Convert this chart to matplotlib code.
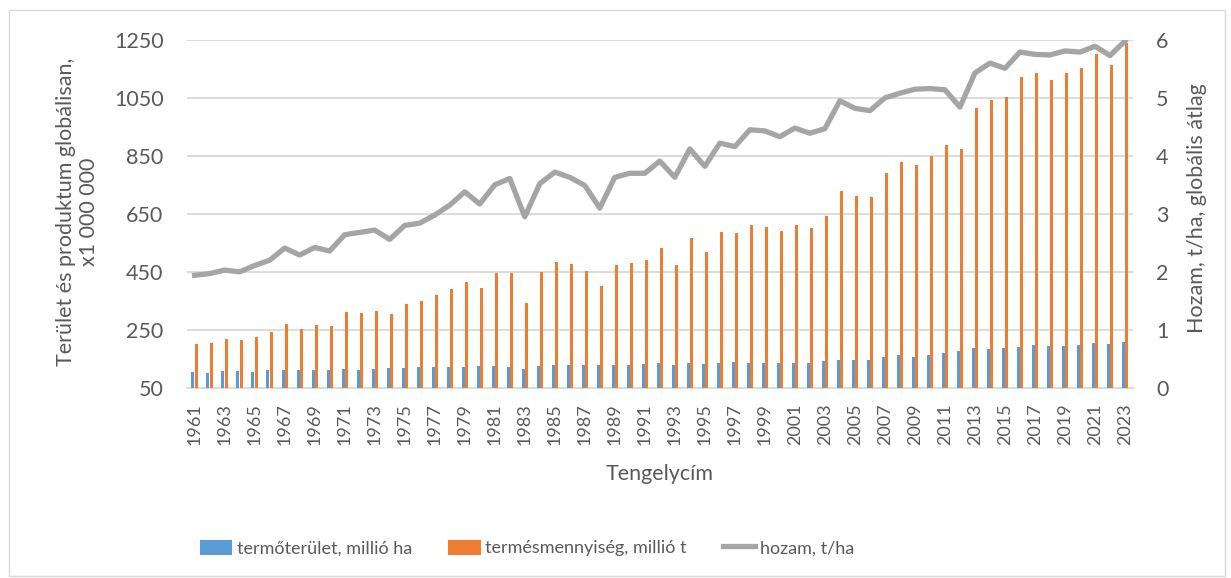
import matplotlib
matplotlib.use("Agg")
import matplotlib.pyplot as plt
from matplotlib.patches import Rectangle
import numpy as np

plt.rcParams['font.family'] = ['Lato', 'DejaVu Sans']

# Évek
evek = list(range(1961, 2024))

# termőterület, millió ha
terulet = [104, 102, 107, 107, 106, 110, 112, 110, 110, 112,
           116, 113, 115, 118, 120, 123, 123, 123, 122, 124,
           125, 123, 116, 125, 128, 128, 128, 128, 128, 128,
           132, 134, 128, 135, 133, 136, 139, 136, 135, 135,
           135, 135, 142, 146, 146, 146, 156, 162, 156, 164,
           170, 178, 186, 183, 188, 192, 197, 193, 194, 199,
           203, 201, 207]

# termésmennyiség, millió t
termes = [202, 203, 218, 214, 225, 242, 270, 254, 267, 263,
          312, 307, 315, 305, 340, 350, 370, 392, 416, 394,
          445, 447, 344, 450, 485, 476, 453, 401, 475, 482,
          492, 533, 475, 567, 517, 586, 583, 613, 605, 590,
          613, 602, 643, 730, 712, 707, 792, 829, 820, 851,
          886, 874, 1015, 1041, 1053, 1122, 1136, 1112, 1136, 1154,
          1203, 1162, 1240]

# hozam, t/ha
hozam = [1.94, 1.97, 2.03, 2.00, 2.11, 2.20, 2.41, 2.29, 2.42, 2.36,
         2.64, 2.68, 2.72, 2.56, 2.80, 2.84, 2.98, 3.15, 3.38, 3.17,
         3.50, 3.61, 2.95, 3.52, 3.72, 3.63, 3.49, 3.10, 3.63, 3.70,
         3.70, 3.91, 3.63, 4.12, 3.82, 4.22, 4.16, 4.45, 4.43, 4.33,
         4.48, 4.39, 4.47, 4.95, 4.82, 4.78, 5.00, 5.08, 5.15, 5.16,
         5.14, 4.84, 5.43, 5.60, 5.51, 5.79, 5.75, 5.74, 5.81, 5.79,
         5.89, 5.73, 5.98]

szurke = '#595959'
racs = '#d9d9d9'

fig = plt.figure(figsize=(12.31, 5.78), dpi=100)
ax = fig.add_axes([0.152, 0.329, 0.768, 0.602])

x = np.arange(len(evek))
ax.bar(x - 0.11, [t - 50 for t in terulet], 0.2, bottom=50, color='#5b9bd5',
       label='termőterület, millió ha', zorder=3)
ax.bar(x + 0.11, [t - 50 for t in termes], 0.2, bottom=50, color='#ed7d31',
       label='termésmennyiség, millió t', zorder=3)

ax.set_ylim(50, 1250)
ax.set_yticks(range(50, 1251, 200))
ax.set_xlim(-0.5, len(evek) - 0.5)
ax.set_xticks(x[::2])
ax.set_xticklabels([str(e) for e in evek[::2]], rotation=90)
ax.grid(axis='y', color=racs, linewidth=1.3, zorder=0)
for s in ['top', 'left', 'right']:
    ax.spines[s].set_visible(False)
ax.spines['bottom'].set_color(racs)
ax.spines['bottom'].set_linewidth(1.3)
ax.tick_params(axis='y', length=0, pad=17, labelsize=15.5, labelcolor=szurke)
ax.tick_params(axis='x', length=0, pad=11, labelsize=13, labelcolor=szurke)
ax.set_xlabel('Tengelycím', fontsize=15.5, color=szurke, labelpad=14)

ax2 = ax.twinx()
ax2.plot(x, hozam, color='#a5a5a5', linewidth=3.8, label='hozam, t/ha', zorder=4)
ax2.set_ylim(0, 6)
ax2.set_yticks(range(0, 7))
for s in ['top', 'left', 'right', 'bottom']:
    ax2.spines[s].set_visible(False)
ax2.tick_params(axis='y', length=0, pad=17, labelsize=15.5, labelcolor=szurke)

# tengelycímek
fig.text(0.063, 0.633, 'Terület és produktum globálisan,\nx1 000 000', rotation=90,
         ha='center', va='center', fontsize=15.5, color=szurke, linespacing=1.2)
fig.text(0.972, 0.64, 'Hozam, t/ha, globális átlag', rotation=90,
         ha='center', va='center', fontsize=15.5, color=szurke)

# jelmagyarázat
h1, l1 = ax.get_legend_handles_labels()
h2, l2 = ax2.get_legend_handles_labels()
fig.legend(h1 + h2, l1 + l2, loc='center', bbox_to_anchor=(0.428, 0.052), ncol=3,
           frameon=False, fontsize=13, labelcolor=szurke, handlelength=1.8,
           handleheight=0.9, handletextpad=0.25, columnspacing=2.0)

# keret
fig.patches.append(Rectangle((0.007, 0.004), 0.988, 0.978, transform=fig.transFigure,
                             fill=False, edgecolor=racs, linewidth=1))

fig.savefig('out.png', dpi=100)
